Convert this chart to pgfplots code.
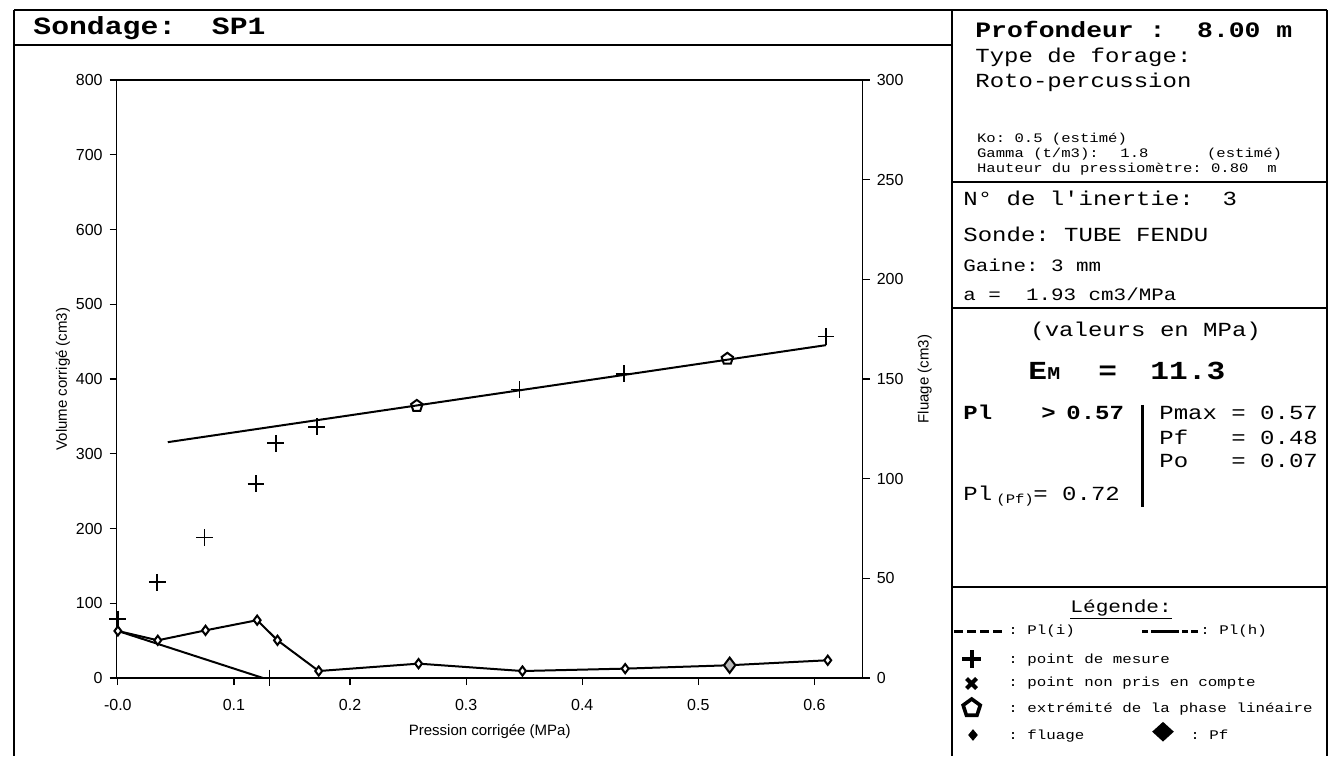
\documentclass[border=0pt]{standalone}
\usepackage{fontspec}
\setmainfont{Liberation Sans}
\newfontfamily\mono[FakeStretch=1.2]{Liberation Mono}
\usepackage{pgfplots}
\pgfplotsset{compat=1.18}
\usetikzlibrary{shapes.geometric}
\newcommand\mf[1]{\mono\fontsize{#1}{#1}\selectfont}

\begin{document}
\frenchspacing
\begin{tikzpicture}
\useasboundingbox (0,0) rectangle (664.5pt,378pt);
\pgfplotsset{
  common/.style={at={(58.35pt,39pt)}, anchor=south west, scale only axis,
    width=373pt, height=299pt, xmin=-0.001, xmax=0.6416, ymin=0,
    tick align=outside, major tick length=3.5pt,
    axis line style={line width=0.75pt}, tick style={line width=0.6pt, black},
    ticklabel style={font=\fontsize{8}{8}\selectfont},
    /pgf/number format/assume math mode=true,
    label style={font=\fontsize{7.5}{7.5}\selectfont},
    clip=false}
}
\begin{axis}[common, ymax=800,
  xtick={0,0.1,0.2,0.3,0.4,0.5,0.6},
  xticklabels={-0.0,0.1,0.2,0.3,0.4,0.5,0.6},
  xticklabel shift=3.5pt,
  ytick={0,100,200,300,400,500,600,700,800},
  xtick pos=bottom, ytick pos=left,
  xlabel={Pression corrigée (MPa)}, ylabel={Volume corrigé (cm3)},
  xlabel style={at={(axis description cs:0.5,-0.09)}, anchor=center},
  ylabel style={at={(axis description cs:-0.072,0.5)}, anchor=center}]
\addplot[only marks, mark=+, mark size=4.2pt, line width=0.85pt] coordinates {
 (0.000,79) (0.034,128) (0.0746,188) (0.119,260) (0.136,314) (0.1714,336)
 (0.346,386) (0.436,407) (0.610,457)};
\addplot[only marks, mark=pentagon, mark size=3pt, line width=1pt] coordinates {
 (0.2575,364) (0.525,427)};
\addplot[no marks, line width=1pt] coordinates {(0.043,315.5) (0.610,445.3)};
\end{axis}
\begin{axis}[common, ymax=300, axis x line=none, axis y line*=right,
  ytick={0,50,100,150,200,250,300},
  ylabel={Fluage (cm3)},
  ylabel style={at={(axis description cs:1.083,0.5)}, anchor=center, rotate=0}]
\addplot[line width=1pt, mark=diamond*, mark size=2.3pt,
  mark options={fill=white, line width=1pt}] coordinates {
 (0,23.6) (0.0344,18.9) (0.0755,23.9) (0.120,29.0) (0.1375,18.9) (0.173,3.5)
 (0.259,7.2) (0.3485,3.5) (0.437,4.7) (0.527,6.4) (0.6115,8.9)};
\addplot[only marks, mark=diamond*, mark size=3.8pt,
  mark options={fill=gray!55, line width=1pt}] coordinates {(0.527,6.4)};
\addplot[no marks, line width=1pt] coordinates {(0,23.6) (0.125,0)};
\addplot[only marks, mark=+, mark size=4.2pt, line width=0.85pt] coordinates {(0.1306,0)};
\end{axis}

\begin{scope}[x=0.5pt, y=-0.5pt, yshift=378pt,
  every node/.style={inner sep=0pt, anchor=base west}]
\draw[line width=1pt] (14,10)--(1327,10) (14,10)--(14,756) (952,10)--(952,756)
  (1327,10)--(1327,756) (952,182)--(1327,182) (952,308)--(1327,308) (952,587)--(1327,587);
\draw[line width=1.3pt] (14,45)--(952,45);
\node at (33,35) {\mf{12.4}\bfseries Sondage:~~SP1};
% panel 1
\node at (975,38) {\mf{11}\bfseries Profondeur~:~~8.00~m};
\node at (975,63) {\mf{10}Type de forage:};
\node at (975,88) {\mf{10}Roto-percussion};
\node at (976.7,143) {\mf{6.5}Ko: 0.5 (estimé)};
\node at (976.7,158) {\mf{6.5}Gamma (t/m3):};
\node at (1120,158) {\mf{6.5}1.8};
\node at (1206.7,158) {\mf{6.5}(estimé)};
\node at (976.7,173) {\mf{6.5}Hauteur du pressiomètre: 0.80~~m};
% panel 2
\node at (963,206) {\mf{10}N° de l'inertie:~~3};
\node at (963,242) {\mf{10}Sonde: TUBE FENDU};
\node at (963,272) {\mf{8.7}Gaine: 3 mm};
\node at (963,301) {\mf{8.7}a =~~1.93 cm3/MPa};
% panel 3
\node at (1030,337) {\mf{10}(valeurs en MPa)};
\node at (1028,380) {\mf{13}\bfseries E};
\node at (1047,380) {\mf{9}\bfseries M};
\node at (1098,380) {\mf{13}\bfseries =};
\node at (1150,380) {\mf{13}\bfseries 11.3};
\node at (963,420) {\mf{10}\bfseries Pl};
\node at (1041,420) {\mf{10}\bfseries >};
\node at (1066,420) {\mf{10}\bfseries 0.57};
\draw[line width=1.5pt] (1142.7,405)--(1142.7,507);
\node at (1159,420) {\mf{10}Pmax~=~0.57};
\node at (1159,445) {\mf{10}Pf~~~=~0.48};
\node at (1159,468) {\mf{10}Po~~~=~0.07};
\node at (963,500) {\mf{10}Pl};
\node at (996,504) {\mf{6.5}(Pf)};
\node at (1033,500) {\mf{10}=~0.72};
% panel 4 legend
\node at (1070,612) {\mf{8.8}\underline{Légende:}};
\draw[line width=1.3pt, dash pattern=on 4.5pt off 2pt] (954,631.7)--(1002,631.7);
\node at (1008,635) {\mf{6.6}: Pl(i)};
\draw[line width=1.3pt, dash pattern=on 3pt off 1.5pt on 14pt off 1.5pt] (1142,631.7)--(1198,631.7);
\node at (1200,635) {\mf{6.6}: Pl(h)};
\draw[line width=2pt] (962,659)--(981,659) (971.5,650)--(971.5,668);
\node at (1008,663) {\mf{6.6}: point de mesure};
\draw[line width=2pt] (966.5,678.5)--(976.5,688.5) (966.5,688.5)--(976.5,678.5);
\node at (1008,687) {\mf{6.6}: point non pris en compte};
\node[anchor=center, draw, line width=1.8pt, regular polygon, regular polygon sides=5,
  minimum size=9pt] at (971.7,708) {};
\node at (1008,712) {\mf{6.6}: extrémité de la phase linéaire};
\node[anchor=center, diamond, fill=black, minimum width=5pt, minimum height=6pt] at (973,735) {};
\node at (1008,739) {\mf{6.6}: fluage};
\node[anchor=center, diamond, fill=black, minimum width=11pt, minimum height=10pt] at (1163,731.7) {};
\node at (1190,739) {\mf{6.6}: Pf};
\end{scope}
\end{tikzpicture}
\end{document}
